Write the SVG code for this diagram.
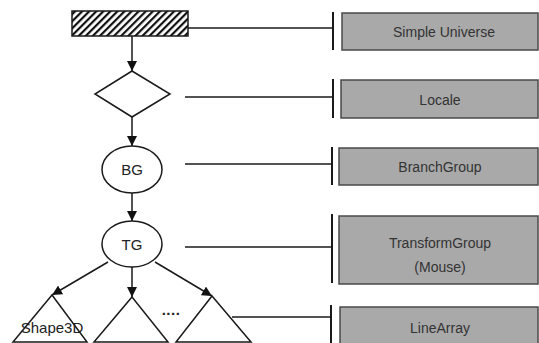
<svg xmlns="http://www.w3.org/2000/svg" width="539" height="343" viewBox="0 0 539 343">
<defs>
<pattern id="hatch" patternUnits="userSpaceOnUse" width="5" height="5" patternTransform="rotate(45)">
<rect width="5" height="5" fill="#fff"/>
<rect x="0" y="0" width="2.2" height="5" fill="#111"/>
</pattern>
<marker id="arr" viewBox="0 0 10 10" refX="10" refY="5" markerWidth="10" markerHeight="10" markerUnits="userSpaceOnUse" orient="auto">
<path d="M0,0 L10,5 L0,10 z" fill="#111"/>
</marker>
</defs>
<style>
.ln{stroke:#1a1a1a;stroke-width:1.5;fill:none}
.shape{stroke:#1a1a1a;stroke-width:1.5;fill:#fff}
.box{fill:#a9a9a9;stroke:#4a4a4a;stroke-width:1.5}
.bar{stroke:#1a1a1a;stroke-width:2}
.t{font-family:"Liberation Sans",Arial,sans-serif;font-size:14px;fill:#333;text-anchor:middle}
.n{font-family:"Liberation Sans",Arial,sans-serif;font-size:15px;fill:#222;text-anchor:middle}
</style>
<rect width="539" height="343" fill="#fff"/>
<g id="connectors">
<line class="ln" x1="132" y1="36" x2="132" y2="71" marker-end="url(#arr)"/>
<line class="ln" x1="132" y1="117" x2="132" y2="146" marker-end="url(#arr)"/>
<line class="ln" x1="132" y1="193" x2="132" y2="221" marker-end="url(#arr)"/>
<line class="ln" x1="108" y1="262" x2="52" y2="295" marker-end="url(#arr)"/>
<line class="ln" x1="132" y1="267" x2="132" y2="297" marker-end="url(#arr)"/>
<line class="ln" x1="155" y1="262" x2="212" y2="296" marker-end="url(#arr)"/>
<line class="ln" x1="188" y1="28" x2="333" y2="28"/>
<line class="bar" x1="333" y1="12" x2="333" y2="50"/>
<line class="ln" x1="185" y1="97" x2="333" y2="97"/>
<line class="bar" x1="333" y1="79" x2="333" y2="118"/>
<line class="ln" x1="185" y1="164" x2="332" y2="164"/>
<line class="bar" x1="332" y1="147" x2="332" y2="185"/>
<line class="ln" x1="185" y1="247" x2="332" y2="247"/>
<line class="bar" x1="332" y1="214" x2="332" y2="283"/>
<line class="ln" x1="232" y1="317" x2="331" y2="317"/>
<line class="bar" x1="331" y1="305" x2="331" y2="345"/>
</g>
<g id="universe-node"><rect x="72" y="11" width="116" height="25" fill="url(#hatch)" stroke="#1a1a1a" stroke-width="1.5"/></g>
<g id="locale-node"><polygon class="shape" points="132,71 170,94 132,117 95,94"/></g>
<g id="bg-node"><ellipse class="shape" cx="132" cy="169.5" rx="30" ry="23.5"/><text class="n" x="132" y="175">BG</text></g>
<g id="tg-node"><ellipse class="shape" cx="132" cy="244" rx="30" ry="23"/><text class="n" x="132" y="249.5">TG</text></g>
<g id="shape-left"><polygon class="shape" points="52,295 87,342 13,342"/><text class="n" x="52" y="333">Shape3D</text></g>
<g id="shape-mid"><polygon class="shape" points="132,297 168,342 94,342"/></g>
<g id="dots"><text class="n" x="171" y="315" style="font-weight:bold;letter-spacing:0.5px">....</text></g>
<g id="shape-right"><polygon class="shape" points="212,296 251,342 176,342"/></g>
<g id="label-su"><rect class="box" x="342" y="13" width="196" height="37"/><text class="t" x="444" y="37">Simple Universe</text></g>
<g id="label-locale"><rect class="box" x="341" y="80" width="197" height="38"/><text class="t" x="440" y="104.5">Locale</text></g>
<g id="label-bg"><rect class="box" x="339" y="148" width="199" height="37"/><text class="t" x="440" y="171.5">BranchGroup</text></g>
<g id="label-tg"><rect class="box" x="339" y="216" width="199" height="68"/><text class="t" x="440" y="247.5">TransformGroup</text><text class="t" x="440" y="271.5">(Mouse)</text></g>
<g id="label-la"><rect class="box" x="340" y="307" width="198" height="40"/><text class="t" x="440" y="332.5">LineArray</text></g>
</svg>
